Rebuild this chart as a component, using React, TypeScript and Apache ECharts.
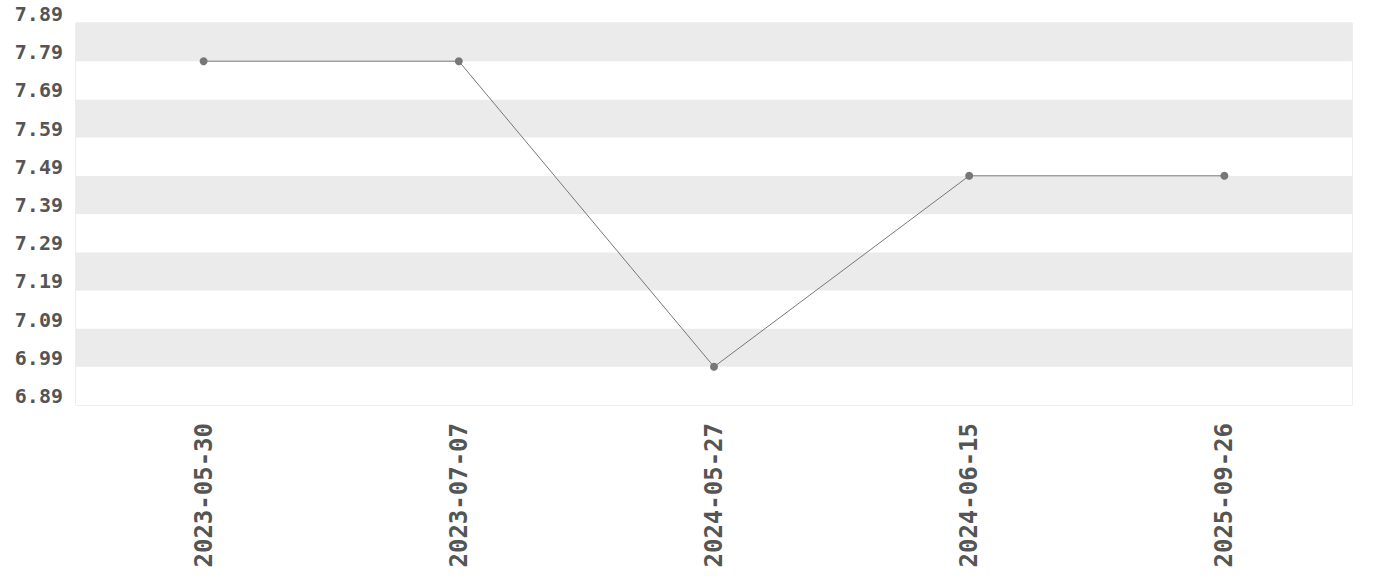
import React, { useEffect, useRef } from "react";
import * as echarts from "echarts";

const categories = ["2023-05-30", "2023-07-07", "2024-05-27", "2024-06-15", "2025-09-26"];
const values = [7.79, 7.79, 6.99, 7.49, 7.49];
const yMin = 6.89;
const yMax = 7.89;
const yStep = 0.1;

export default function App() {
  const ref = useRef<HTMLDivElement>(null);
  useEffect(() => {
    const chart = echarts.init(ref.current!, null, { renderer: "svg" });
    const font = "'DejaVu Sans Mono', monospace";
    chart.setOption({
      animation: false,
      grid: {
        left: 76,
        right: 28,
        top: 23,
        bottom: 175,
        outerBoundsMode: "none",
        containLabel: false,
        show: true,
        borderColor: "#dddddd",
        borderWidth: 1,
        backgroundColor: "transparent",
      },
      xAxis: {
        type: "category",
        data: categories,
        boundaryGap: true,
        axisLine: { show: false },
        axisTick: { show: false },
        axisLabel: { rotate: 90, margin: 18, color: "#555555", fontFamily: font, fontWeight: "bold", fontSize: 24 },
        splitLine: { show: false },
      },
      yAxis: {
        type: "value",
        min: yMin,
        max: yMax,
        interval: yStep,
        axisLine: { show: false },
        axisTick: { show: false },
        splitLine: { show: false },
        splitArea: { show: true, areaStyle: { color: ["#ffffff", "#ebebeb"] } },
        axisLabel: {
          color: "#555555",
          fontFamily: font,
          fontWeight: "bold",
          fontSize: 20,
          margin: 13,
          verticalAlign: "bottom",
          lineHeight: 18,
          formatter: (v: number) => v.toFixed(2),
        },
      },
      series: [
        {
          type: "line",
          data: values,
          symbol: "circle",
          symbolSize: 8,
          lineStyle: { color: "#777777", width: 1 },
          itemStyle: { color: "#777777" },
        },
      ],
    });
    return () => chart.dispose();
  }, []);
  return <div ref={ref} style={{ position: "absolute", left: 0, top: 0, width: 1380, height: 580 }} />;
}
